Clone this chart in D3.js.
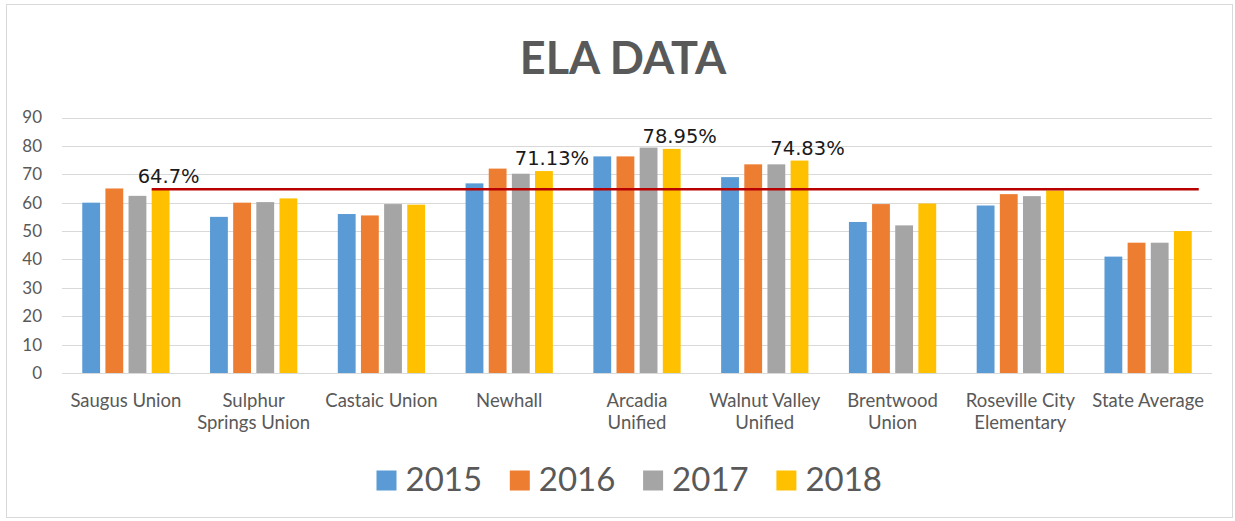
<!DOCTYPE html>
<html>
<head>
<meta charset="utf-8">
<script src="https://cdn.jsdelivr.net/npm/d3@7"></script>
<style>
  html, body { margin: 0; padding: 0; background: #fff; }
  svg { display: block; }
</style>
</head>
<body>
<svg id="chart" width="1235" height="521"></svg>
<script>
// ---- data ----
const categories = ["Saugus Union", "Sulphur Springs Union", "Castaic Union", "Newhall",
  "Arcadia Unified", "Walnut Valley Unified", "Brentwood Union", "Roseville City Elementary", "State Average"];
const categoryLabelLines = [["Saugus Union"], ["Sulphur", "Springs Union"], ["Castaic Union"], ["Newhall"],
  ["Arcadia", "Unified"], ["Walnut Valley", "Unified"], ["Brentwood", "Union"], ["Roseville City", "Elementary"], ["State Average"]];
const seriesNames = ["2015", "2016", "2017", "2018"];
const values2015 = [60, 55, 56, 66.8, 76.3, 69, 53.2, 59, 41];
const values2016 = [65, 60, 55.5, 72, 76.3, 73.5, 59.5, 63, 45.9];
const values2017 = [62.4, 60.2, 59.5, 70.2, 79.4, 73.5, 52, 62.3, 45.9];
const values2018 = [64.7, 61.5, 59.3, 71.13, 78.95, 74.83, 59.7, 64.3, 50];
const yTicks = [0, 10, 20, 30, 40, 50, 60, 70, 80, 90];
const benchmark = 64.7;
const labeledCategories = ["Saugus Union", "Newhall", "Arcadia Unified", "Walnut Valley Unified"];
const labeledSeries = "2018";
const title = "ELA DATA";

// ---- styles ----
const colors = {"2015": "#5B9BD5", "2016": "#ED7D31", "2017": "#A5A5A5", "2018": "#FFC000"};
const textGray = "#595959";
const font = "Lato, 'Open Sans', sans-serif";

const seriesValues = {"2015": values2015, "2016": values2016, "2017": values2017, "2018": values2018};
const rows = categories.map((c, i) => ({
  category: c,
  values: seriesNames.map(s => ({series: s, value: seriesValues[s][i]}))
}));

const svg = d3.select("#chart");
const W = 1235, H = 521;
const plot = {left: 62, right: 1212, top: 117.5, bottom: 373};

// border
svg.append("rect").attr("x", 6.5).attr("y", 4.5).attr("width", 1226).attr("height", 513)
  .attr("fill", "#fff").attr("stroke", "#d9d9d9").attr("stroke-width", 1);

// scales
const x0 = d3.scaleBand().domain(categories).range([plot.left, plot.right]).padding(0);
const groupWidth = x0.bandwidth() * 0.683;
const groupOffset = (x0.bandwidth() - groupWidth) / 2;
const x1 = d3.scaleBand().domain(seriesNames).range([0, groupWidth]).paddingInner(0.23).paddingOuter(0);
const y = d3.scaleLinear().domain([0, 90]).range([plot.bottom, plot.top]);

// title
svg.append("text").attr("x", 623).attr("y", 74).attr("text-anchor", "middle")
  .attr("font-family", font).attr("font-weight", "bold").attr("font-size", 45)
  .attr("fill", textGray).text(title);

// gridlines
svg.append("g").selectAll("line").data(yTicks).join("line")
  .attr("x1", plot.left).attr("x2", plot.right)
  .attr("y1", d => Math.round(y(d)) + 0.5).attr("y2", d => Math.round(y(d)) + 0.5)
  .attr("stroke", "#d9d9d9").attr("stroke-width", 1.2);

// y axis labels
const yAxis = d3.axisLeft(y).tickValues(yTicks).tickSize(0).tickPadding(0);
const yg = svg.append("g").attr("transform", `translate(42,0)`).call(yAxis);
yg.select(".domain").remove();
yg.selectAll("text").attr("font-family", font).attr("font-size", 17).attr("fill", textGray);

// bars
const groups = svg.append("g").selectAll("g").data(rows).join("g")
  .attr("transform", d => `translate(${x0(d.category) + groupOffset},0)`);
groups.selectAll("rect").data(d => d.values).join("rect")
  .attr("x", d => x1(d.series))
  .attr("width", x1.bandwidth())
  .attr("y", d => y(d.value))
  .attr("height", d => y(0) - y(d.value))
  .attr("fill", d => colors[d.series]);

// benchmark line
const firstCat = categories[0], lastCat = categories[categories.length - 1];
const lineX1 = x0(firstCat) + groupOffset + x1(labeledSeries);
const lineX2 = x0(lastCat) + groupOffset + x1(labeledSeries) + x1.bandwidth() + 7;
svg.append("line").attr("x1", lineX1).attr("x2", lineX2)
  .attr("y1", y(benchmark)).attr("y2", y(benchmark))
  .attr("stroke", "#B80000").attr("stroke-width", 2.6);

// data labels
const labelData = labeledCategories.map(c => {
  const i = categories.indexOf(c);
  return {category: c, value: seriesValues[labeledSeries][i]};
});
svg.append("g").selectAll("text").data(labelData).join("text")
  .attr("x", d => x0(d.category) + groupOffset + x1(labeledSeries) + x1.bandwidth() / 2 + 8)
  .attr("y", d => y(d.value) - 6)
  .attr("text-anchor", "middle")
  .attr("font-family", "'DejaVu Sans', sans-serif").attr("font-size", 19.5)
  .attr("fill", "#1a1a1a")
  .text(d => d.value + "%");

// category labels
const xg = svg.append("g");
categories.forEach((c, i) => {
  const t = xg.append("text").attr("x", x0(c) + x0.bandwidth() / 2).attr("y", 407)
    .attr("text-anchor", "middle").attr("font-family", font).attr("font-size", 18.5)
    .attr("fill", textGray);
  categoryLabelLines[i].forEach((line, j) => {
    t.append("tspan").attr("x", x0(c) + x0.bandwidth() / 2).attr("dy", j === 0 ? 0 : 22).text(line);
  });
});

// legend
const legendStart = 376.5, legendStep = 133.3;
const lg = svg.append("g").selectAll("g").data(seriesNames).join("g")
  .attr("transform", (d, i) => `translate(${legendStart + i * legendStep},0)`);
lg.append("rect").attr("x", 0).attr("y", 470.5).attr("width", 20).attr("height", 20)
  .attr("fill", d => colors[d]);
lg.append("text").attr("x", 29).attr("y", 491).attr("font-family", font)
  .attr("font-size", 33).attr("fill", textGray).text(d => d);
</script>
</body>
</html>
